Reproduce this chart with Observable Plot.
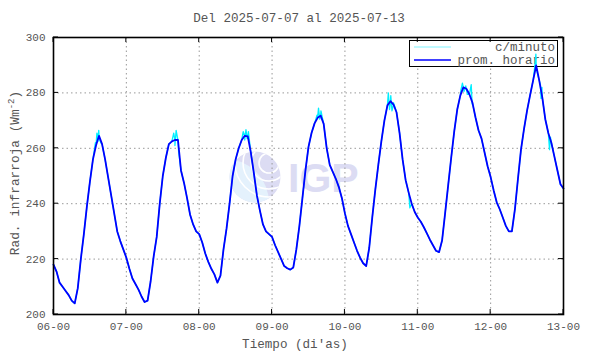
<!DOCTYPE html>
<html><head><meta charset="utf-8">
<script src="https://cdn.jsdelivr.net/npm/d3@7"></script>
<script src="https://cdn.jsdelivr.net/npm/@observablehq/plot@0.6"></script>
<style>body{margin:0;background:#fff} svg{display:block}</style>
</head><body><div id="chart"></div>
<script>
const titleText = "Del 2025-07-07 al 2025-07-13";
const xLabel = "Tiempo (di'as)";
const yLabelMain = "Rad. infrarroja (Wm";
const yLabelSup = "-2";
const yLabelEnd = ")";
const xTicks = [6, 7, 8, 9, 10, 11, 12, 13];
const xTickLabels = ["06-00", "07-00", "08-00", "09-00", "10-00", "11-00", "12-00", "13-00"];
const yTicks = [200, 220, 240, 260, 280, 300];
const seriesNames = ["c/minuto", "prom. horario"];
const seriesColors = ["#00eeff", "#0000ff"];

// hourly means (prom. horario), one value per hour, day by day
const dayStarts = [6, 7, 8, 9, 10, 11, 12];
const day06 = [218, 215.5, 211.5, 210, 208.5, 207, 205, 204, 209.5, 220, 229, 239, 248, 256, 261, 264.5, 261.5, 256, 249.5, 243, 236.5, 230, 226.5, 223.5];
const day07 = [220.5, 216.5, 213, 211, 209, 206.5, 204.5, 205, 212, 221, 228, 240, 250, 256.5, 261.5, 262.5, 263, 263, 252, 247.5, 242, 236, 232.5, 230];
const day08 = [229, 226, 222, 219, 216.5, 214.5, 211.5, 214, 223.5, 231, 240, 250, 256, 260, 263, 264.5, 264.3, 258.5, 251, 243, 237.5, 232.5, 230, 229];
const day09 = [228, 225, 222.5, 220, 217.5, 216.7, 216.2, 217, 223.5, 232, 242, 252, 260.5, 265.5, 269, 271, 271.8, 268.8, 260, 254, 251.5, 249, 246, 242];
const day10 = [236.5, 232, 229, 226, 223, 220.5, 218.5, 217.5, 224, 235, 245, 254, 262.5, 270, 275.5, 277, 275.8, 273, 265.5, 256, 248.5, 244, 240, 237];
const day11 = [235, 233.5, 231.5, 229.3, 227, 225, 223, 222.5, 226.7, 236.5, 246.5, 256.5, 266, 274, 279, 282, 281.5, 279.5, 276.5, 271.2, 266.5, 263.5, 258.5, 253.5];
const day12 = [249.6, 244.8, 240.5, 238, 235, 232, 230, 230, 238, 249, 259.5, 267, 273.6, 279.2, 284.5, 289.9, 284.5, 278.5, 270.5, 265.5, 262, 257, 252, 247];
const endTime = 13;
const endValue = 245.5;

// per-minute excursions visible around the hourly curve (hours since 06-00)
const spikeHours = [13.8, 14.3, 14.6, 14.9, 15.2, 15.6,
  39.6, 40.0, 40.4, 40.8, 41.2,
  62.5, 63.0, 63.4, 63.8, 64.2,
  86.8, 87.3, 87.7, 88.1,
  109.9, 110.3, 110.7, 111.1, 111.5, 112.0, 117.4,
  134.2, 134.7, 135.2, 135.8, 136.3, 137.6, 137.9,
  158.6, 158.9, 159.2, 160.4, 160.6, 160.9, 163.4, 163.7];
const spikeValues = [262, 265.5, 262.5, 266.5, 263, 262,
  265.5, 261, 266.5, 264, 259,
  266, 263, 266.7, 263.5, 266,
  272, 274.5, 270.5, 273.5,
  275, 280, 274, 279, 273.5, 276.5, 238.5,
  281, 283.5, 280.5, 282.5, 279.5, 283, 276,
  290, 294, 288, 283, 278, 282, 259.5, 264];

const dayArrays = [day06, day07, day08, day09, day10, day11, day12];
const hourly = [];
dayArrays.forEach((vals, i) => vals.forEach((v, h) => hourly.push({t: dayStarts[i] + h / 24, v})));
hourly.push({t: endTime, v: endValue});
const minute = hourly.concat(spikeHours.map((h, i) => ({t: 6 + h / 24, v: spikeValues[i]}))).sort((a, b) => a.t - b.t);

const font = "Liberation Mono";
const textColor = "#555";

const svg = Plot.plot({
  width: 590, height: 354,
  marginLeft: 53, marginRight: 27, marginTop: 37, marginBottom: 40,
  style: {fontFamily: font, fontSize: "11px", color: textColor, background: "#fff"},
  x: {domain: [6, 13]},
  y: {domain: [200, 300]},
  marks: [
    Plot.gridX(xTicks, {stroke: "#999", strokeOpacity: 1, strokeDasharray: "1.5,3"}),
    Plot.gridY(yTicks, {stroke: "#999", strokeOpacity: 1, strokeDasharray: "1.5,3"}),
    Plot.axisX({ticks: xTicks, tickFormat: d => xTickLabels[xTicks.indexOf(d)], tickSize: 0, tickPadding: 8, label: null}),
    Plot.axisY({ticks: yTicks, tickSize: 0, tickPadding: 8, label: null}),
    Plot.line(minute, {x: "t", y: "v", stroke: seriesColors[0], strokeWidth: 1.3}),
    Plot.line(hourly, {x: "t", y: "v", stroke: seriesColors[1], strokeWidth: 1.8}),
    Plot.frame({stroke: "#000", strokeWidth: 1.6})
  ]
});

const sel = d3.select(svg);
const xs = svg.scale("x"), ys = svg.scale("y");
const [x0, x1] = xs.range, [y0, y1] = ys.range; // y0 bottom, y1 top

// watermark (behind the grid)
const firstGrid = svg.querySelector('g[aria-label="x-grid"]');
const wm = d3.create("svg:g").attr("class", "watermark");
const cx = 255, cy = 177, r = 25.5;
const defs = sel.append("defs");
defs.append("clipPath").attr("id", "wmclip").append("circle").attr("cx", cx).attr("cy", cy).attr("r", r);
wm.append("circle").attr("cx", cx).attr("cy", cy).attr("r", r).attr("fill", "#dcdcf3");
const inner = wm.append("g").attr("clip-path", "url(#wmclip)");
inner.append("circle").attr("cx", cx - 30).attr("cy", cy + 26).attr("r", 44).attr("fill", "#e4f1fc");
[10, 18, 26, 34].forEach(rr => inner.append("circle").attr("cx", cx + 14).attr("cy", cy - 14).attr("r", rr)
  .attr("fill", "none").attr("stroke", "#fff").attr("stroke-width", 1.6));
wm.append("text").attr("x", 288).attr("y", 192).attr("text-anchor", "start")
  .attr("font-family", "Liberation Sans").attr("font-weight", "bold")
  .attr("font-size", 41).attr("fill", "#dcdcf3").text("IGP");
svg.insertBefore(wm.node(), firstGrid);

// legend (drawn under the data lines)
const firstLine = svg.querySelector('g[aria-label="line"]');
const lg = d3.create("svg:g").attr("class", "legend");
lg.append("rect").attr("x", 409.5).attr("y", 40.5).attr("width", 148).attr("height", 26)
  .attr("fill", "#fff").attr("stroke", "#000").attr("stroke-width", 1);
seriesNames.forEach((name, i) => {
  const yy = 47 + i * 13;
  lg.append("line").attr("x1", 414).attr("x2", 451).attr("y1", yy).attr("y2", yy)
    .attr("stroke", i ? seriesColors[1] : "#7ff4ff").attr("stroke-width", i ? 1.6 : 1);
  lg.append("text").attr("x", 555).attr("y", yy + 4).attr("text-anchor", "end")
    .attr("font-family", font).attr("font-size", 12.5).attr("fill", textColor).text(name);
});
svg.insertBefore(lg.node(), firstLine);

// inward ticks on all four sides
const tk = sel.append("g").attr("stroke", "#000").attr("stroke-width", 1);
xTicks.forEach(t => {
  const x = xs.apply(t);
  tk.append("line").attr("x1", x).attr("x2", x).attr("y1", y0).attr("y2", y0 - 5);
  tk.append("line").attr("x1", x).attr("x2", x).attr("y1", y1).attr("y2", y1 + 5);
});
yTicks.forEach(t => {
  const y = ys.apply(t);
  tk.append("line").attr("x1", x0).attr("x2", x0 + 5).attr("y1", y).attr("y2", y);
  tk.append("line").attr("x1", x1).attr("x2", x1 - 5).attr("y1", y).attr("y2", y);
});

// title and axis labels
sel.append("text").attr("x", 299).attr("y", 22).attr("text-anchor", "middle")
  .attr("font-family", font).attr("font-size", 12.6).attr("fill", textColor).text(titleText);
sel.append("text").attr("x", 295).attr("y", 348).attr("text-anchor", "middle")
  .attr("font-family", font).attr("font-size", 12.6).attr("fill", textColor).text(xLabel);
const yl = sel.append("text").attr("transform", "translate(19,173) rotate(-90)").attr("text-anchor", "middle")
  .attr("font-family", font).attr("font-size", 12.8).attr("fill", textColor);
yl.append("tspan").text(yLabelMain);
yl.append("tspan").attr("dy", -5).attr("font-size", 9).text(yLabelSup);
yl.append("tspan").attr("dy", 5).text(yLabelEnd);

document.getElementById("chart").appendChild(svg);
</script>
</body></html>
